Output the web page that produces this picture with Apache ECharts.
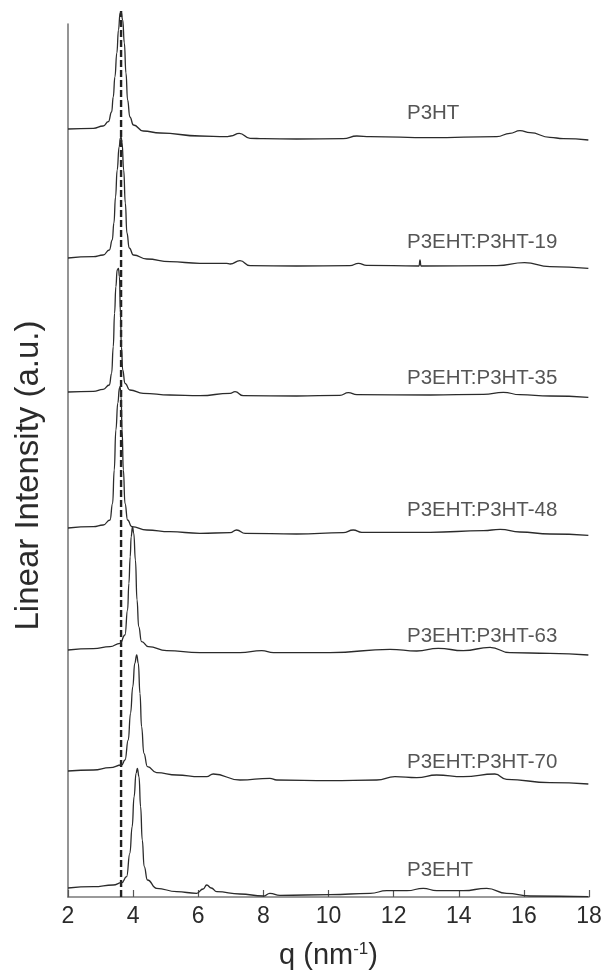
<!DOCTYPE html>
<html>
<head>
<meta charset="utf-8">
<script src="https://cdn.jsdelivr.net/npm/echarts@6/dist/echarts.min.js"></script>
<style>
  html, body { margin: 0; padding: 0; background: #fff; }
  #chart { width: 605px; height: 976px; }
</style>
</head>
<body>
<div id="chart"></div>
<script>
// SAXS/WAXS profiles of P3EHT:P3HT blends, stacked with a vertical offset.
const sampleNames = ['P3HT', 'P3EHT:P3HT-19', 'P3EHT:P3HT-35', 'P3EHT:P3HT-48',
                     'P3EHT:P3HT-63', 'P3EHT:P3HT-70', 'P3EHT'];

// vertical offset of each trace (a.u.)
const offsets = [768, 639, 505, 369, 247, 126, 9];

// q (nm^-1) and intensity (a.u., relative to the trace's own offset)
const q_P3HT = [2.0, 2.78, 3.08, 3.24, 3.34, 3.39, 3.44, 3.50, 3.55, 3.60, 3.63, 3.68, 3.73, 3.78, 3.83, 3.90, 4.01, 4.31, 4.83, 6.05, 6.87, 7.0, 7.26, 7.59, 8.0, 9.02, 10.45, 10.87, 11.28, 13.12, 15.17, 15.57, 15.88, 16.19, 16.8, 17.21, 17.98];
const I_P3HT = [0, 0.7, 3, 7.3, 17, 32, 52, 76, 99, 116, 117, 109, 86, 56, 29, 12, 4, -2, -4, -7, -7.7, -7, -4.3, -9.3, -9.7, -10, -9.7, -7, -7.7, -8.7, -7.7, -4.3, -1.7, -3.7, -8.3, -9.7, -11];

const q_19 = [2.0, 2.78, 3.08, 3.27, 3.36, 3.41, 3.46, 3.51, 3.57, 3.61, 3.63, 3.66, 3.71, 3.76, 3.81, 3.88, 4.01, 4.42, 5.13, 6.05, 6.87, 6.98, 7.28, 7.59, 9.02, 10.66, 10.92, 11.17, 12.78, 12.81, 12.84, 15.17, 16.02, 16.8, 17.98];
const I_19 = [0, 1.3, 3, 8, 18, 35, 61, 88, 111, 120, 121, 115, 88, 55, 25, 10, 3, -1, -3.7, -5.3, -5.3, -6, -2.7, -7.7, -8, -7.7, -5.3, -7.3, -8, -2, -8, -7.7, -4.7, -8.7, -10.3];

const q_35 = [2.0, 2.78, 3.08, 3.27, 3.34, 3.39, 3.43, 3.47, 3.51, 3.55, 3.58, 3.61, 3.64, 3.68, 3.75, 3.90, 4.31, 5.13, 6.05, 6.98, 7.13, 7.38, 9.02, 10.35, 10.61, 10.87, 13.12, 14.76, 15.37, 15.88, 16.8, 17.98];
const I_35 = [0, 0.7, 2.7, 7, 18.7, 45.3, 78.7, 105.3, 122, 123.7, 115.3, 78.7, 45.3, 22, 8.7, 2, -1.3, -3, -3.7, -1.3, 0.3, -3.7, -4, -3.3, -0.7, -2.7, -3, -2.3, -0.3, -2.7, -4, -5.3];

const q_48 = [2.0, 2.78, 3.08, 3.29, 3.37, 3.42, 3.47, 3.53, 3.58, 3.60, 3.63, 3.66, 3.70, 3.75, 3.83, 3.96, 4.42, 5.13, 6.05, 6.98, 7.18, 7.44, 9.02, 10.45, 10.76, 11.02, 13.12, 14.76, 15.27, 15.88, 16.8, 17.98];
const I_48 = [0, 1.3, 3, 8, 24.7, 58, 98, 125, 140, 141.3, 131.3, 98, 58, 24.7, 8, 1.3, -2, -3.7, -5.3, -4.7, -2, -5.3, -6, -4.7, -2, -4.3, -4.3, -2.7, -1.3, -4, -6, -7.3];

const q_63 = [2.0, 2.78, 3.29, 3.60, 3.75, 3.83, 3.87, 3.91, 3.94, 3.98, 4.02, 4.07, 4.12, 4.17, 4.26, 4.47, 5.03, 6.05, 7.28, 7.95, 8.31, 10.05, 11.89, 12.71, 13.37, 14.14, 14.96, 15.57, 16.8, 17.98];
const I_63 = [0, 1.3, 3.3, 6.7, 15, 40, 66.7, 93.3, 113.3, 123.3, 116.7, 90, 50, 23.3, 8.3, 3.3, -0.7, -2.7, -2.7, -0.7, -2.7, -2.7, 0.7, -1, 1.7, -0.7, 2.7, -2.7, -3.3, -5];

const q_70 = [2.0, 2.78, 3.29, 3.65, 3.75, 3.85, 3.92, 3.99, 4.05, 4.11, 4.16, 4.21, 4.26, 4.33, 4.44, 4.72, 5.34, 6.05, 6.26, 6.46, 7.28, 8.2, 8.41, 10.05, 11.48, 12.04, 12.71, 13.32, 14.14, 15.11, 15.47, 16.8, 17.98];
const I_70 = [0, 1, 3.3, 6, 11, 31, 57.7, 84.3, 107.7, 116, 107.7, 77.7, 44.3, 17.7, 4.3, -1.7, -4, -5.7, -5.7, -3, -9, -7.3, -9, -9.7, -9, -5.7, -6.7, -4, -5.7, -3, -8.3, -11.7, -13];

const q_P3EHT = [2.0, 2.78, 3.39, 3.65, 3.80, 3.90, 3.97, 4.03, 4.09, 4.13, 4.18, 4.23, 4.28, 4.34, 4.44, 4.72, 5.34, 5.95, 6.15, 6.26, 6.40, 6.57, 7.28, 8.0, 8.2, 8.51, 10.05, 11.28, 11.79, 12.41, 12.91, 13.32, 14.14, 14.86, 15.47, 16.19, 17.98];
const I_P3EHT = [0, 1.3, 3, 5.3, 11.3, 34.7, 61.3, 91.3, 114.7, 119.7, 111.3, 81.3, 48, 21.3, 8, -0.3, -3.7, -5.3, -1, 3, 0, -3.7, -6, -8, -5.3, -7.3, -6.7, -5.3, -2.7, -2.7, -0.3, -2.7, -2.7, -0.3, -5.3, -8, -8.7];

const qSets = [q_P3HT, q_19, q_35, q_48, q_63, q_70, q_P3EHT];
const ISets = [I_P3HT, I_19, I_35, I_48, I_63, I_70, I_P3EHT];

// position of the first-order (100) reflection of P3HT
const refPeakQ = 3.63;
const refPeakTop = 886;

// sample-name placement
const labelQ = 12.41;
const labelLift = [16, 16, 14, 18, 14, 9, 18];

const FONT = 'Liberation Sans, Arial, Helvetica, sans-serif';
const INK = '#2b2b2b';

const traceSeries = sampleNames.map((name, k) => ({
  name: name,
  type: 'line',
  data: qSets[k].map((q, j) => [q, ISets[k][j] + offsets[k]]),
  showSymbol: false,
  smooth: 0.5,
  smoothMonotone: 'x',
  clip: false,
  lineStyle: { color: INK, width: 1.3 },
  silent: true,
  z: 3
}));

const labelSeries = {
  type: 'scatter',
  symbolSize: 0,
  silent: true,
  data: sampleNames.map((name, k) => ({ value: [labelQ, offsets[k] + labelLift[k]], name: name })),
  label: {
    show: true,
    position: 'right',
    distance: 0,
    formatter: p => p.name,
    fontFamily: FONT,
    fontSize: 20.5,
    color: INK,
    verticalAlign: 'middle'
  },
  z: 4
};

const refSeries = {
  type: 'line',
  data: [[refPeakQ, 0], [refPeakQ, refPeakTop]],
  showSymbol: false,
  clip: false,
  silent: true,
  lineStyle: { color: '#222', width: 2.4, type: [7, 3] },
  z: 2
};

const chart = echarts.init(document.getElementById('chart'), null, { renderer: 'canvas' });
chart.setOption({
  animation: false,
  backgroundColor: '#fff',
  grid: { left: 68, right: 16, top: 24, bottom: 79, containLabel: false },
  xAxis: {
    type: 'value',
    min: 2, max: 18, interval: 2,
    name: '{t|q (nm}{s|-1}{t|)}',
    nameLocation: 'middle',
    nameGap: 44,
    nameTextStyle: {
      rich: {
        t: { fontFamily: FONT, fontSize: 29, color: INK },
        s: { fontFamily: FONT, fontSize: 17, color: INK, verticalAlign: 'top', padding: [0, 0, 12, 0] }
      }
    },
    axisLine: { lineStyle: { color: '#7a7a7a', width: 1.6 } },
    axisTick: { inside: true, length: 7, lineStyle: { color: '#555', width: 1.2 } },
    axisLabel: { fontFamily: FONT, fontSize: 23, color: INK, margin: 8 },
    splitLine: { show: false }
  },
  yAxis: {
    type: 'value',
    min: 0, max: 873,
    name: 'Linear Intensity (a.u.)',
    nameLocation: 'middle',
    nameRotate: 90,
    nameGap: 23,
    nameTextStyle: { fontFamily: FONT, fontSize: 33, color: INK, padding: [0, 30, 0, 0] },
    axisLine: { show: true, lineStyle: { color: '#7a7a7a', width: 1.6 } },
    axisTick: { show: false },
    axisLabel: { show: false },
    splitLine: { show: false }
  },
  series: [refSeries].concat(traceSeries, [labelSeries])
});
</script>
</body>
</html>
